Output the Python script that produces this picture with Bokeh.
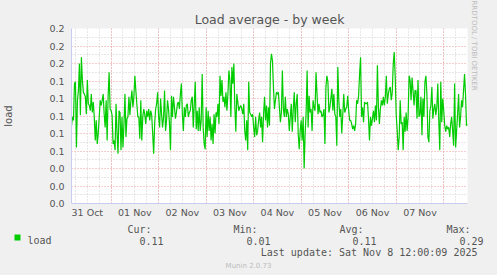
import numpy as np
import pandas as pd
from bokeh.plotting import figure
from bokeh.layouts import column
from bokeh.models import (FixedTicker, DatetimeTickFormatter, PrintfTickFormatter,
                          Grid, Title, Range1d)
from bokeh.core.properties import value
from bokeh.embed import file_html
from bokeh.resources import INLINE

# ---------------- data ----------------
START = "2025-10-31 04:00"
END = "2025-11-08 12:00"

load_a = [0.089,0.099,0.095,0.137,0.139,0.064,0.118,0.129,0.160,0.101,0.167,0.141,0.127,0.125,0.122,0.102,0.141,0.114,0.112,0.106,
          0.125,0.104,0.116,0.099,0.072,0.095,0.068,0.080,0.099,0.118,0.112,0.118,0.125,0.102,0.087,0.118,0.072,0.123,0.150,0.108,
          0.106,0.101,0.068,0.072,0.061,0.114,0.080,0.057,0.106,0.104,0.061,0.099,0.064,0.091,0.125,0.076,0.097,0.099]
load_b = [0.122,0.101,0.118,0.129,0.110,0.122,0.146,0.129,0.114,0.099,0.099,0.074,0.118,0.072,0.099,0.108,0.102,0.091,0.106,
          0.099,0.108,0.095,0.106,0.101,0.080,0.057,0.091,0.108,0.114,0.127,0.099,0.087,0.120,0.102,0.087,0.099,0.129,0.083,0.095,
          0.118,0.108,0.091,0.061,0.123,0.099,0.122,0.110,0.097,0.104,0.114,0.116,0.108,0.125,0.137,0.102,0.083,0.110,0.099]
load_c = [0.112,0.114,0.099,0.104,0.106,0.118,0.122,0.087,0.114,0.139,0.085,0.106,0.083,0.110,0.083,0.095,0.148,0.087,0.068,
          0.062,0.110,0.076,0.106,0.083,0.099,0.072,0.091,0.068,0.102,0.080,0.104,0.099,0.114,0.091,0.146,0.123,0.141,0.116,0.122,
          0.110,0.127,0.106,0.125,0.152,0.141,0.099,0.156,0.137,0.160,0.110,0.082,0.125,0.116,0.106,0.110,0.112,0.108,0.102]
load_d = [0.114,0.083,0.072,0.095,0.061,0.139,0.104,0.102,0.099,0.102,0.087,0.076,0.099,0.078,0.083,0.095,0.104,0.087,0.099,
          0.070,0.102,0.122,0.095,0.112,0.087,0.110,0.089,0.160,0.171,0.163,0.133,0.108,0.118,0.127,0.125,0.127,0.110,0.093,0.104,
          0.152,0.108,0.099,0.122,0.099,0.108,0.102,0.083,0.099,0.114,0.082,0.108,0.127,0.093,0.114,0.125,0.080,0.062,0.083]
load_e = [0.095,0.072,0.099,0.040,0.080,0.104,0.152,0.087,0.123,0.104,0.108,0.083,0.118,0.110,0.106,0.150,0.125,0.102,0.114,
          0.104,0.106,0.099,0.101,0.108,0.068,0.133,0.146,0.139,0.104,0.110,0.120,0.131,0.106,0.125,0.102,0.099,0.066,0.156,0.118,
          0.099,0.108,0.080,0.101,0.125,0.104,0.108,0.110,0.123,0.106,0.095,0.095,0.091,0.085,0.089,0.083,0.091,0.118,0.114]
load_f = [0.123,0.148,0.167,0.099,0.110,0.093,0.116,0.114,0.114,0.116,0.097,0.072,0.099,0.089,0.097,0.106,0.093,0.112,0.095,
          0.158,0.110,0.091,0.108,0.118,0.112,0.122,0.112,0.122,0.146,0.114,0.125,0.131,0.133,0.118,0.127,0.160,0.173,0.144,0.101,
          0.083,0.061,0.076,0.118,0.091,0.093,0.061,0.099,0.082,0.104,0.083,0.099,0.146,0.141,0.118,0.144,0.129,0.112,0.129]
load_g = [0.129,0.097,0.141,0.099,0.102,0.122,0.078,0.120,0.099,0.139,0.146,0.125,0.076,0.070,0.106,0.112,0.133,0.097,0.108,
          0.114,0.101,0.110,0.137,0.095,0.061,0.139,0.093,0.120,0.106,0.089,0.082,0.089,0.085,0.087,0.076,0.091,0.099,0.083,0.066,
          0.137,0.064,0.083,0.102,0.125,0.087,0.099,0.118,0.110,0.129,0.148,0.125,0.089,0.091]
load = load_a + load_b + load_c + load_d + load_e + load_f + load_g

y_ticks = [0.00, 0.02, 0.04, 0.06, 0.08, 0.10, 0.12, 0.14, 0.16, 0.18, 0.20]
y_minor = [0.01, 0.03, 0.05, 0.07, 0.09, 0.11, 0.13, 0.15, 0.17, 0.19]
x_label_days = ["2025-10-31", "2025-11-01", "2025-11-02", "2025-11-03",
                "2025-11-04", "2025-11-05", "2025-11-06", "2025-11-07"]
midnights = ["2025-11-01", "2025-11-02", "2025-11-03", "2025-11-04",
             "2025-11-05", "2025-11-06", "2025-11-07", "2025-11-08"]

legend_headers = ["Cur:", "Min:", "Avg:", "Max:"]
legend_values = ["0.11", "0.01", "0.11", "0.29"]
series_name = "load"
last_update = "Last update: Sat Nov  8 12:00:09 2025"
title_text = "Load average - by week"
side_text = "RRDTOOL / TOBI OETIKER"
footer_text = "Munin 2.0.73"

# ---------------- helpers ----------------
def ms(s):
    return pd.Timestamp(s).value / 1e6

times = pd.date_range(START, periods=len(load), freq="30min")
tms = [t.value / 1e6 for t in times]

noon_ticks = [ms(d) + 12 * 3600e3 for d in x_label_days]
mid_ticks = [ms(d) for d in midnights]
six_hours = [ms("2025-10-31 00:00") + k * 6 * 3600e3 for k in range(0, 40)]

BG = "#F0F0F0"
TXT = "#555555"
GREEN = "#00CC00"
AXIS = "#C8CCF2"
FAINT = "#BBBBBB"

MAIN_H = 221
LEG_H = 275 - MAIN_H

# ---------------- main chart ----------------
p = figure(width=497, height=MAIN_H, output_backend="svg", toolbar_location=None,
           x_axis_type="datetime",
           x_range=Range1d(ms(START), ms(END)), y_range=Range1d(0, 0.2))
p.frame_align = False
p.min_border_left = 67
p.min_border_right = 30
p.min_border_top = 28
p.min_border_bottom = 18
p.border_fill_color = BG
p.background_fill_color = "white"
p.outline_line_color = None
p.xgrid.visible = False
p.ygrid.visible = False

p.add_layout(Title(text=title_text, align="center", offset=-19, standoff=3,
                   text_font="DejaVu Sans", text_font_size="12.5px",
                   text_font_style="normal", text_color=TXT), "above")
p.add_layout(Title(text=side_text, align="left", vertical_align="top", offset=-28,
                   standoff=0, text_font="DejaVu Sans", text_font_size="7px",
                   text_font_style="normal", text_color=FAINT), "right")

xa = p.xaxis[0]
xa.ticker = FixedTicker(ticks=noon_ticks)
xa.formatter = DatetimeTickFormatter(days="%d %b", hours="%d %b", months="%d %b",
                                     minutes="%d %b", hourmin="%d %b")
xa.major_tick_line_color = None
xa.minor_tick_line_color = None
xa.major_tick_out = 0
xa.major_label_standoff = 3
xa.axis_line_color = AXIS
xa.major_label_text_font = "DejaVu Sans"
xa.major_label_text_font_size = "9.5px"
xa.major_label_text_color = TXT

ya = p.yaxis[0]
ya.ticker = FixedTicker(ticks=y_ticks)
ya.formatter = PrintfTickFormatter(format="%.1f")
ya.major_tick_line_color = None
ya.minor_tick_line_color = None
ya.major_tick_out = 0
ya.major_label_standoff = 7
ya.axis_line_color = AXIS
ya.major_label_text_font = "DejaVu Sans"
ya.major_label_text_font_size = "9.5px"
ya.major_label_text_color = TXT
ya.axis_label = series_name
ya.axis_label_text_font = "DejaVu Sans"
ya.axis_label_text_font_size = "10px"
ya.axis_label_text_font_style = "normal"
ya.axis_label_text_color = TXT
ya.axis_label_standoff = 32

gy = Grid(dimension=1, ticker=FixedTicker(ticks=y_ticks, minor_ticks=y_minor),
          grid_line_color="#EE9A9A", grid_line_dash="1 2",
          minor_grid_line_color="#CFCFCF", minor_grid_line_dash="1 2")
gx = Grid(dimension=0, ticker=FixedTicker(ticks=mid_ticks, minor_ticks=six_hours),
          grid_line_color="#EE9A9A", grid_line_dash="1 2",
          minor_grid_line_color="#CFCFCF", minor_grid_line_dash="1 2")
p.add_layout(gy)
p.add_layout(gx)

p.line(tms, load, line_color=GREEN, line_width=1.2)

# ---------------- legend strip (pixel coordinates, y downward) ----------------
leg = figure(width=497, height=LEG_H, output_backend="svg", toolbar_location=None,
             x_axis_type=None, y_axis_type=None, title_location=None,
             x_range=Range1d(0, 497), y_range=Range1d(LEG_H, 0))
leg.frame_align = False
leg.min_border = 0
leg.min_border_left = 0
leg.min_border_right = 0
leg.min_border_top = 0
leg.min_border_bottom = 0
leg.outline_line_color = None
leg.background_fill_color = BG
leg.border_fill_color = BG

off = MAIN_H + 3
mono = dict(text_font=value("DejaVu Sans Mono"), text_font_size="10px",
            text_color=TXT, text_baseline="alphabetic")
leg.text(x=[151, 257, 363, 470], y=[232 - off] * 4, text=legend_headers, text_align="right", **mono)
leg.text(x=[163, 270, 376, 483], y=[243 - off] * 4, text=legend_values, text_align="right", **mono)
leg.text(x=[27], y=[243 - off], text=[series_name], text_align="left", **mono)
leg.quad(left=[14], right=[20], top=[237 - off], bottom=[243 - off], fill_color=GREEN, line_color=None)
leg.text(x=[483], y=[255 - off], text=[last_update], text_align="right", **mono)
leg.text(x=[248], y=[268 - off], text=[footer_text], text_align="center",
         text_font=value("DejaVu Sans"), text_font_size="7px", text_color=FAINT,
         text_baseline="alphabetic")

layout = column(p, leg, spacing=0, styles={"background-color": BG})
open("out.html", "w").write(file_html(layout, INLINE))
